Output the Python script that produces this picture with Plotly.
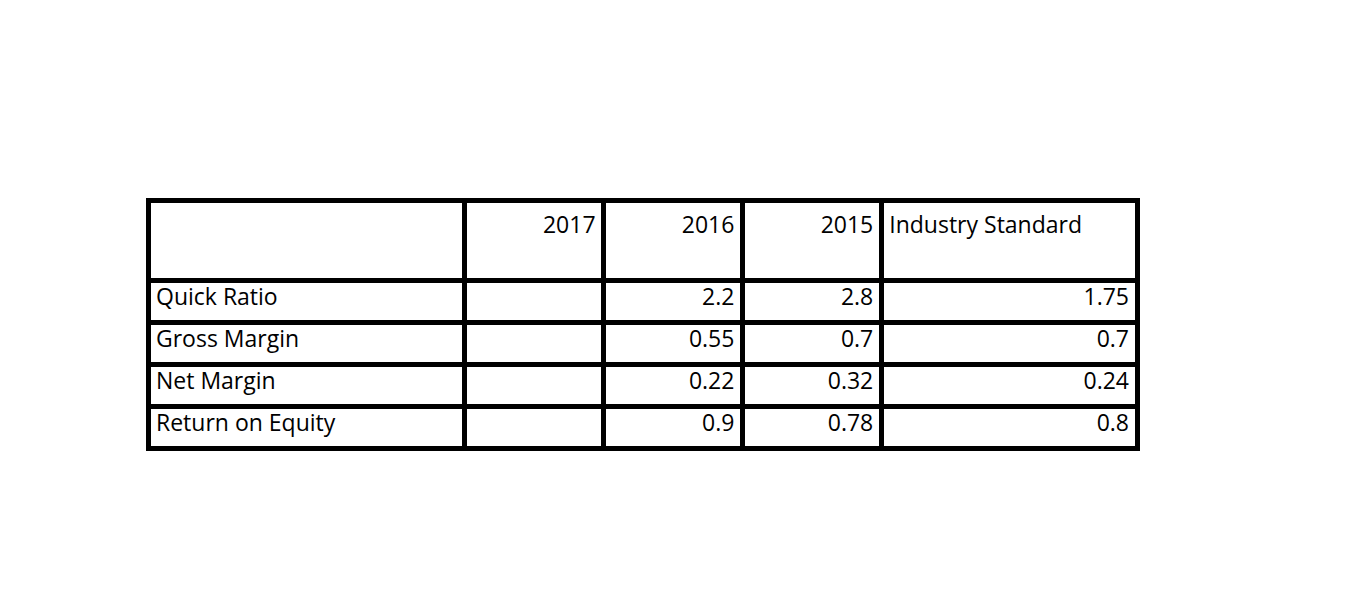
import plotly.graph_objects as go

header = ["", "2017", "2016", "2015", "Industry Standard"]
metrics = ["Quick Ratio", "Gross Margin", "Net Margin", "Return on Equity"]
v2017 = ["", "", "", ""]
v2016 = ["2.2", "0.55", "0.22", "0.9"]
v2015 = ["2.8", "0.7", "0.32", "0.78"]
industry = ["1.75", "0.7", "0.24", "0.8"]

font = dict(family="Open Sans", size=23, color="black")
fig = go.Figure(go.Table(
    columnwidth=[317, 139, 139, 139, 256],
    domain=dict(x=[140/1350, 1130/1350], y=[0, 1-192/600]),
    header=dict(values=["<br>" + h for h in header], height=80, font=font,
                align=["left", "right", "right", "right", "left"],
                line=dict(color="black", width=5), fill_color="white"),
    cells=dict(values=[metrics, v2017, v2016, v2015, industry], height=42, font=font,
               align=["left", "right", "right", "right", "right"],
               line=dict(color="black", width=5), fill_color="white"),
))
fig.update_layout(width=1350, height=600, margin=dict(l=0, r=0, t=0, b=0),
                  paper_bgcolor="white")
fig.write_html("out.html")
